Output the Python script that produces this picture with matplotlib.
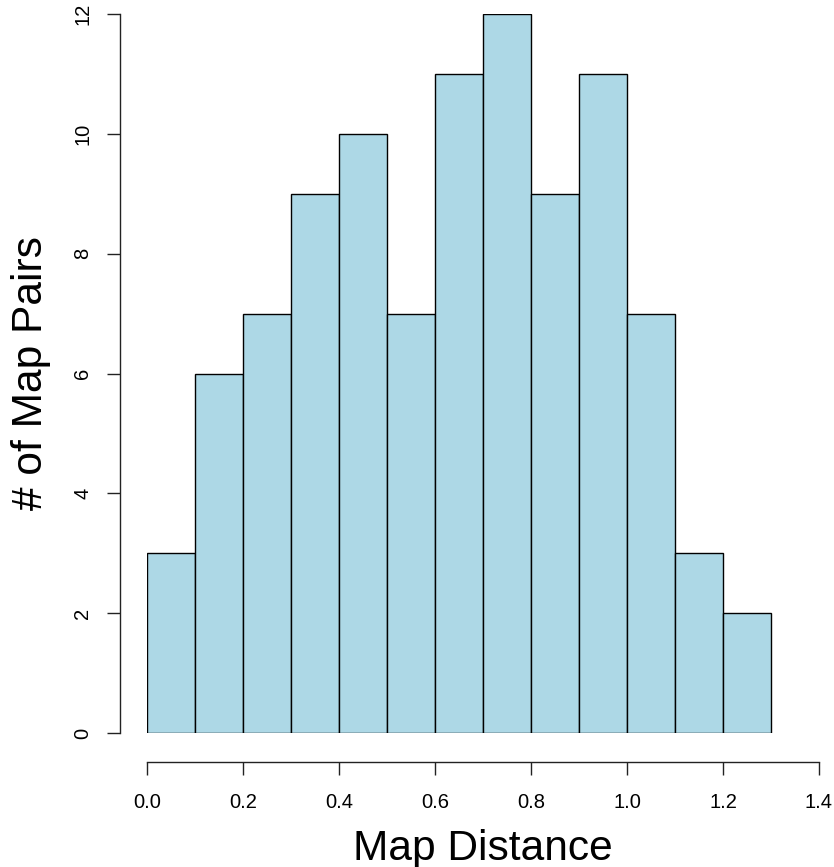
import numpy as np
import matplotlib
matplotlib.use("Agg")
import matplotlib.pyplot as plt

# 数据
bin_edges = [0.0, 0.1, 0.2, 0.3, 0.4, 0.5, 0.6, 0.7, 0.8, 0.9, 1.0, 1.1, 1.2, 1.3]
counts = [3, 6, 7, 9, 10, 7, 11, 12, 9, 11, 7, 3, 2]
x_ticks = [0.0, 0.2, 0.4, 0.6, 0.8, 1.0, 1.2, 1.4]
x_tick_labels = ["0.0", "0.2", "0.4", "0.6", "0.8", "1.0", "1.2", "1.4"]
y_ticks = [0, 2, 4, 6, 8, 10, 12]

plt.rcParams["font.family"] = ["Liberation Sans", "DejaVu Sans"]

W, H = 834, 867
fig = plt.figure(figsize=(W / 100, H / 100), dpi=100)
ax = fig.add_axes([147 / W, (H - 733) / H, 672 / W, 719 / H])

edges = np.array(bin_edges)
ax.bar(edges[:-1], counts, width=np.diff(edges), align="edge",
       color="#ADD8E6", edgecolor="black", linewidth=1.0)

ax.set_xlim(0, 1.4)
ax.set_ylim(0, 12)

# R 风格的坐标轴
for s in ["top", "right"]:
    ax.spines[s].set_visible(False)
ax.spines["left"].set_position(("outward", 27 * 0.72))
ax.spines["bottom"].set_position(("outward", 29 * 0.72))
ax.spines["left"].set_bounds(0, 12)
ax.spines["bottom"].set_bounds(0, 1.4)
for s in ["left", "bottom"]:
    ax.spines[s].set_linewidth(1.0)
    ax.spines[s].set_color("#222222")

ax.set_xticks(x_ticks)
ax.set_xticklabels(x_tick_labels)
ax.set_yticks(y_ticks)
ax.set_yticklabels([str(v) for v in y_ticks], rotation=90, va="center")
ax.tick_params(axis="both", length=13 * 0.72, width=1.0, color="#222222",
               labelsize=14.5)
ax.tick_params(axis="x", pad=13)
ax.tick_params(axis="y", pad=10.5)

fig.text(483 / W, (H - 860) / H, "Map Distance", fontsize=30.6,
         ha="center", va="baseline")
fig.text(42 / W, (H - 373) / H, "# of Map Pairs", fontsize=30.6,
         ha="center", va="baseline", rotation=90, rotation_mode="anchor")

fig.savefig("out.png", dpi=100)
